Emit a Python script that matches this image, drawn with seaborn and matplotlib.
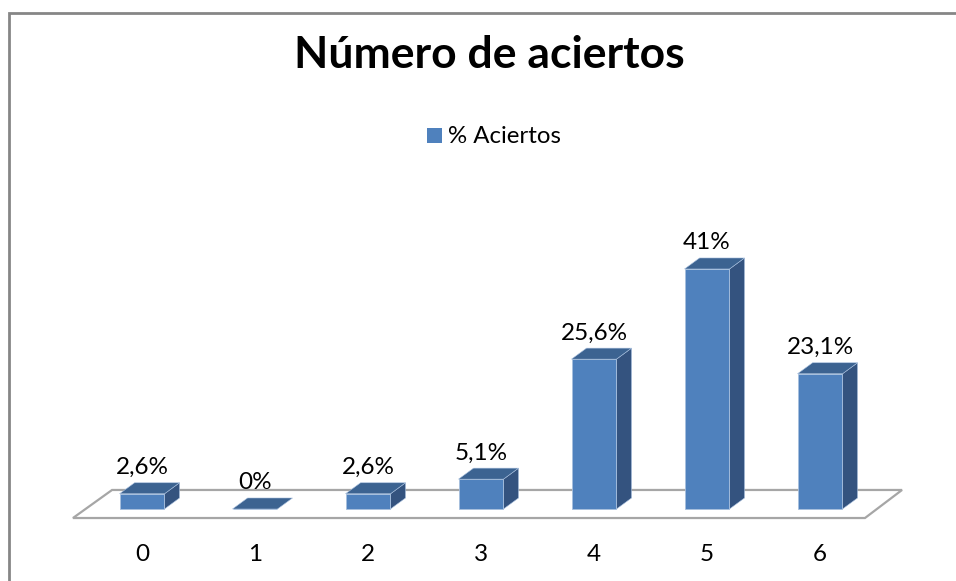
import numpy as np
import pandas as pd
import matplotlib
matplotlib.use("Agg")
import matplotlib.pyplot as plt
import seaborn as sns
from matplotlib.patches import Polygon, Rectangle

# Chart data
categories = ["0", "1", "2", "3", "4", "5", "6"]
aciertos = [2.6, 0, 2.6, 5.1, 25.6, 41, 23.1]
value_labels = ["2,6%", "0%", "2,6%", "5,1%", "25,6%", "41%", "23,1%"]
series_name = "% Aciertos"
title = "Número de aciertos"

sns.set_style("white")
plt.rcParams['font.family'] = ['Lato', 'DejaVu Sans']
plt.rcParams['text.color'] = 'black'

front_color = '#4F81BD'
side_color = '#34537F'
top_color = '#3C6391'

fig = plt.figure(figsize=(9.56, 5.81), dpi=100)
ax = fig.add_axes([0, 0, 1, 1])

df = pd.DataFrame({"cat": categories, "val": aciertos})
bar_w = 0.398
sns.barplot(data=df, x="cat", y="val", color=front_color, width=bar_w,
            saturation=1, ax=ax, edgecolor='#A7BFDE', linewidth=0.6, zorder=3)

# fake 3D: depth offsets in data units
dx = 0.133
dy = 1.88

# floor
floor = Polygon([(-0.611, -1.54), (6.398, -1.54), (6.726, 3.25), (-0.265, 3.25)],
                closed=True, facecolor='white', edgecolor='#A6A6A6', linewidth=1.6, zorder=1)
ax.add_patch(floor)

for i, p in enumerate(ax.patches[:len(categories)]):
    x0 = p.get_x()
    x1 = x0 + p.get_width()
    v = p.get_height()
    if v > 0:
        side = Polygon([(x1, 0), (x1 + dx, dy), (x1 + dx, v + dy), (x1, v)], closed=True,
                       facecolor=side_color, edgecolor='#A7BFDE', linewidth=0.4, zorder=2)
        ax.add_patch(side)
    top = Polygon([(x0, v), (x1, v), (x1 + dx, v + dy), (x0 + dx, v + dy)], closed=True,
                  facecolor=top_color, edgecolor='#A7BFDE', linewidth=0.4, zorder=4)
    ax.add_patch(top)
    ax.text(i, v + dy + 1.5, value_labels[i], ha='center', va='baseline', fontsize=17.5, color='black')
    ax.text(i, -8.9, categories[i], ha='center', va='baseline', fontsize=17.5, color='black')

ax.set_xlim(-1.2566, 7.2035)
ax.set_ylim(-12.30, 86.95)
ax.axis('off')

# chart border (left and top visible)
fig.patches.append(Rectangle((9 / 956, -0.1), 1.2, (581 - 13) / 581 + 0.1, transform=fig.transFigure,
                             fill=False, edgecolor='#868686', linewidth=2))

fig.text(489 / 956, 1 - 68 / 581, title, ha='center', va='baseline', fontsize=32, fontweight='bold', color='black')

# legend
fig.patches.append(Rectangle((427 / 956, 1 - 143 / 581), 15 / 956, 15 / 581, transform=fig.transFigure,
                             facecolor=front_color, edgecolor='none'))
fig.text(448 / 956, 1 - 143 / 581, series_name, ha='left', va='baseline', fontsize=17.3, color='black')

fig.savefig("out.png", dpi=100)
